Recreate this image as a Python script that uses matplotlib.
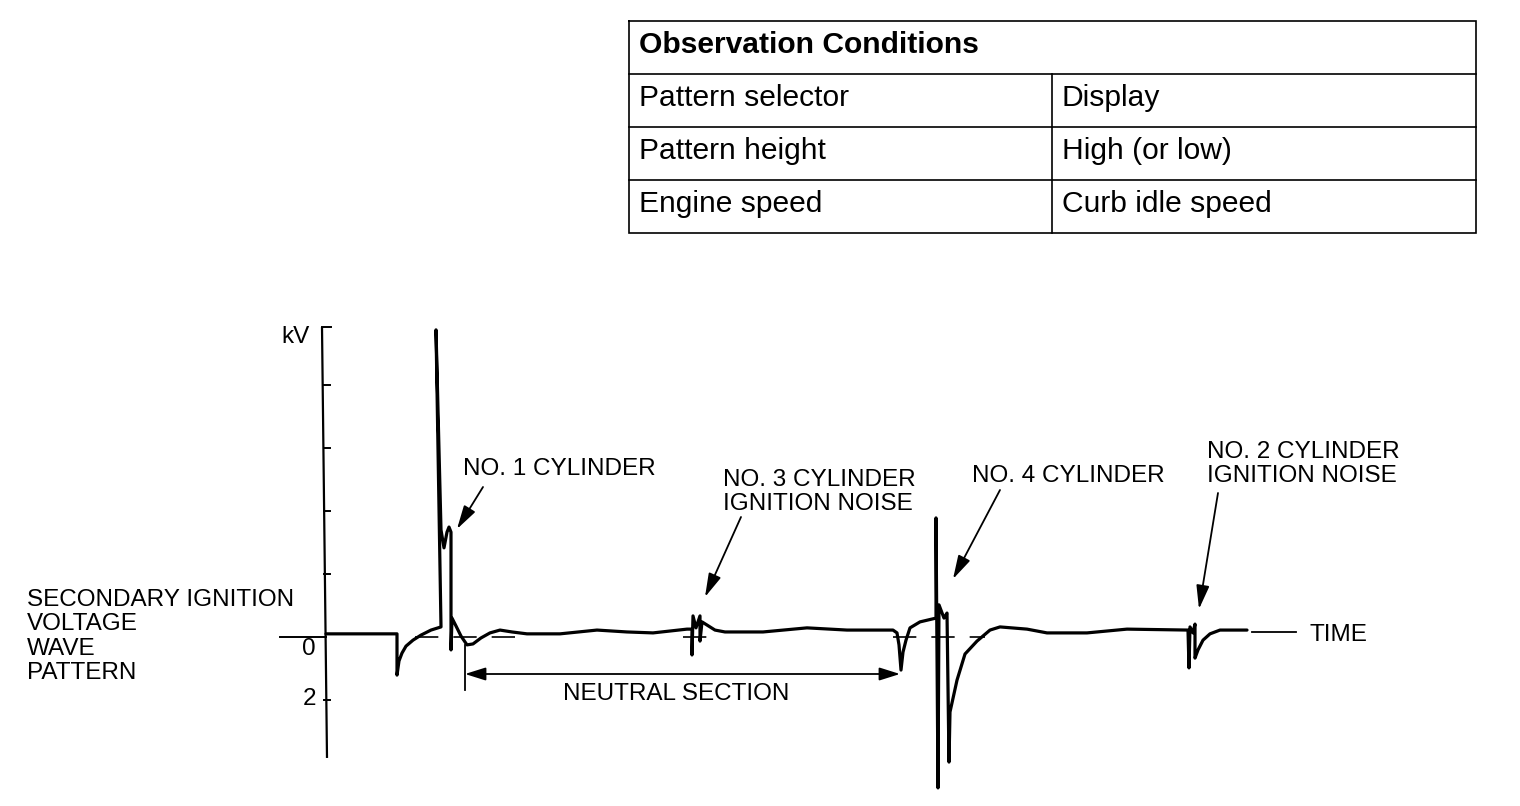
import matplotlib
matplotlib.use("Agg")
import matplotlib.pyplot as plt

plt.rcParams['font.family'] = ['Liberation Sans', 'DejaVu Sans']

# ---------------- data ----------------
# time axis in arbitrary horizontal units, secondary voltage in kV (positive = downward on scope)
time = [326, 397, 397, 399, 402, 406, 413, 421, 431, 441, 436, 441, 444, 447, 449, 451, 451, 452,
        456, 461, 467, 473, 481, 490, 500, 512, 527, 560, 597, 627, 653, 687, 692, 692, 693, 696,
        700, 700, 702, 707, 715, 725, 763, 807, 847, 893, 897, 899, 901, 903, 906, 910, 920, 936,
        936, 938, 939, 944, 947, 949, 950, 957, 965, 977, 990, 1000, 1027, 1047, 1087, 1127, 1188,
        1189, 1190, 1193, 1195, 1195, 1198, 1203, 1210, 1220, 1247]
kv = [-0.10, -0.10, 1.21, 0.76, 0.51, 0.29, 0.10, -0.06, -0.22, -0.32, -9.75, -3.40, -2.83, -3.33,
      -3.49, -3.33, 0.41, -0.60, -0.35, -0.03, 0.25, 0.22, 0.03, -0.13, -0.22, -0.16, -0.10, -0.10,
      -0.22, -0.16, -0.13, -0.25, -0.25, 0.57, -0.67, -0.29, -0.67, 0.13, -0.48, -0.38, -0.22, -0.16,
      -0.16, -0.29, -0.22, -0.22, -0.13, 0.25, 1.05, 0.48, 0.10, -0.29, -0.48, -0.60, -3.78, 4.79,
      -1.02, -0.60, -0.76, 3.97, 2.38, 1.37, 0.54, 0.13, -0.22, -0.32, -0.25, -0.13, -0.13, -0.25,
      -0.22, 0.98, -0.32, -0.13, -0.41, 0.67, 0.41, 0.10, -0.10, -0.22, -0.22]

tick_kv = [-8, -6, -4, -2, 2]
labelled_ticks = [0, 2]
axis_top_kv = -9.84
axis_bottom_kv = 3.84
baseline_segments = [(415, 520), (683, 718), (893, 985)]
neutral_section = (465, 900)

table_header = 'Observation Conditions'
table_rows = [('Pattern selector', 'Display'),
              ('Pattern height', 'High (or low)'),
              ('Engine speed', 'Curb idle speed')]

labels = ['NO. 1 CYLINDER', 'NO. 3 CYLINDER\nIGNITION NOISE', 'NO. 4 CYLINDER',
          'NO. 2 CYLINDER\nIGNITION NOISE']

# ---------------- layout ----------------
W, H = 1520, 806
ZERO_PX, PX_PER_KV = 637, 31.5


def px2kv(py):
    return (py - ZERO_PX) / PX_PER_KV


fig = plt.figure(figsize=(W / 100, H / 100), dpi=100)
ax = fig.add_axes([0, 0, 1, 1])
ax.set_xlim(0, W)
ax.set_ylim(px2kv(H), px2kv(0))
ax.axis('off')

axp = fig.add_axes([0, 0, 1, 1])
axp.set_xlim(0, W)
axp.set_ylim(H, 0)
axp.axis('off')
axp.patch.set_alpha(0)

FS = 17.5
TFS = 21.6

# ---- vertical kV axis ----
ax.plot([322, 327], [axis_top_kv, axis_bottom_kv], color='black', lw=1.6, solid_capstyle='butt')
ax.plot([322, 331], [axis_top_kv, axis_top_kv], color='black', lw=1.4)
for t in tick_kv:
    ax.plot([324, 330], [t, t], color='black', lw=1.4)
# zero line at left of axis
ax.plot([280, 326], [0, 0], color='black', lw=1.4)
label_baselines_px = [655, 705]
for t, by in zip(labelled_ticks, label_baselines_px):
    axp.text(316, by, str(t), ha='right', va='baseline', fontsize=FS)
axp.text(281, 343, 'kV', ha='left', va='baseline', fontsize=FS)

# ---- dashed reference (zero) line ----
for a, b in baseline_segments:
    ax.plot([a, b], [0, 0], color='black', lw=1.2, linestyle=(0, (14, 9)))

# ---- waveform ----
ax.plot(time, kv, color='black', lw=2.3, solid_joinstyle='round', solid_capstyle='round')

# ---- neutral section ----
ns_y = px2kv(674)
ax.plot([neutral_section[0]] * 2, [px2kv(645), px2kv(690)], color='black', lw=1.3)
ax.annotate('', xy=(neutral_section[1], ns_y), xytext=(neutral_section[0], ns_y),
            arrowprops=dict(arrowstyle='<|-|>,head_length=0.7,head_width=0.22',
                            mutation_scale=18, color='black', lw=1.3,
                            shrinkA=0, shrinkB=0))
axp.text(676, 700, 'NEUTRAL SECTION', ha='center', va='baseline', fontsize=FS)

# ---- TIME ----
axp.plot([1252, 1296], [632, 632], color='black', lw=1.3)
axp.text(1310, 641, 'TIME', ha='left', va='baseline', fontsize=FS)

# ---- left label ----
for i, line in enumerate(['SECONDARY IGNITION', 'VOLTAGE', 'WAVE', 'PATTERN']):
    axp.text(27, 606 + 24.3 * i, line, ha='left', va='baseline', fontsize=FS)

# ---- event labels with arrows ----
label_pos = [(463, 475), (723, 486), (972, 482), (1207, 458)]
arrow_pts = [((483, 487), (457, 529)),
             ((741, 517), (705, 597)),
             ((1000, 490), (953, 579)),
             ((1218, 493), (1199, 609))]
for txt, (lx, ly), (p0, p1) in zip(labels, label_pos, arrow_pts):
    for j, line in enumerate(txt.split('\n')):
        axp.text(lx, ly + 24.5 * j, line, ha='left', va='baseline', fontsize=FS)
    axp.annotate('', xy=p1, xytext=p0,
                 arrowprops=dict(arrowstyle='-|>,head_length=0.8,head_width=0.22',
                                 mutation_scale=18, color='black', lw=1.3,
                                 shrinkA=0, shrinkB=0))

# ---- observation conditions table ----
x0, x1, xm = 629, 1476, 1052
row_edges = [21, 74, 127, 180, 233]
tlw = 1.2
axp.plot([x0, x1, x1, x0, x0], [row_edges[0], row_edges[0], row_edges[-1], row_edges[-1], row_edges[0]],
         color='black', lw=tlw, solid_joinstyle='miter')
for y in row_edges[1:-1]:
    axp.plot([x0, x1], [y, y], color='black', lw=tlw)
axp.plot([xm, xm], [row_edges[1], row_edges[-1]], color='black', lw=tlw)
axp.text(639, row_edges[0] + 32, table_header, ha='left', va='baseline', fontsize=TFS,
         fontweight='bold')
for (c1, c2), top in zip(table_rows, row_edges[1:-1]):
    axp.text(639, top + 32, c1, ha='left', va='baseline', fontsize=TFS)
    axp.text(1062, top + 32, c2, ha='left', va='baseline', fontsize=TFS)

fig.savefig('out.png', dpi=100)
